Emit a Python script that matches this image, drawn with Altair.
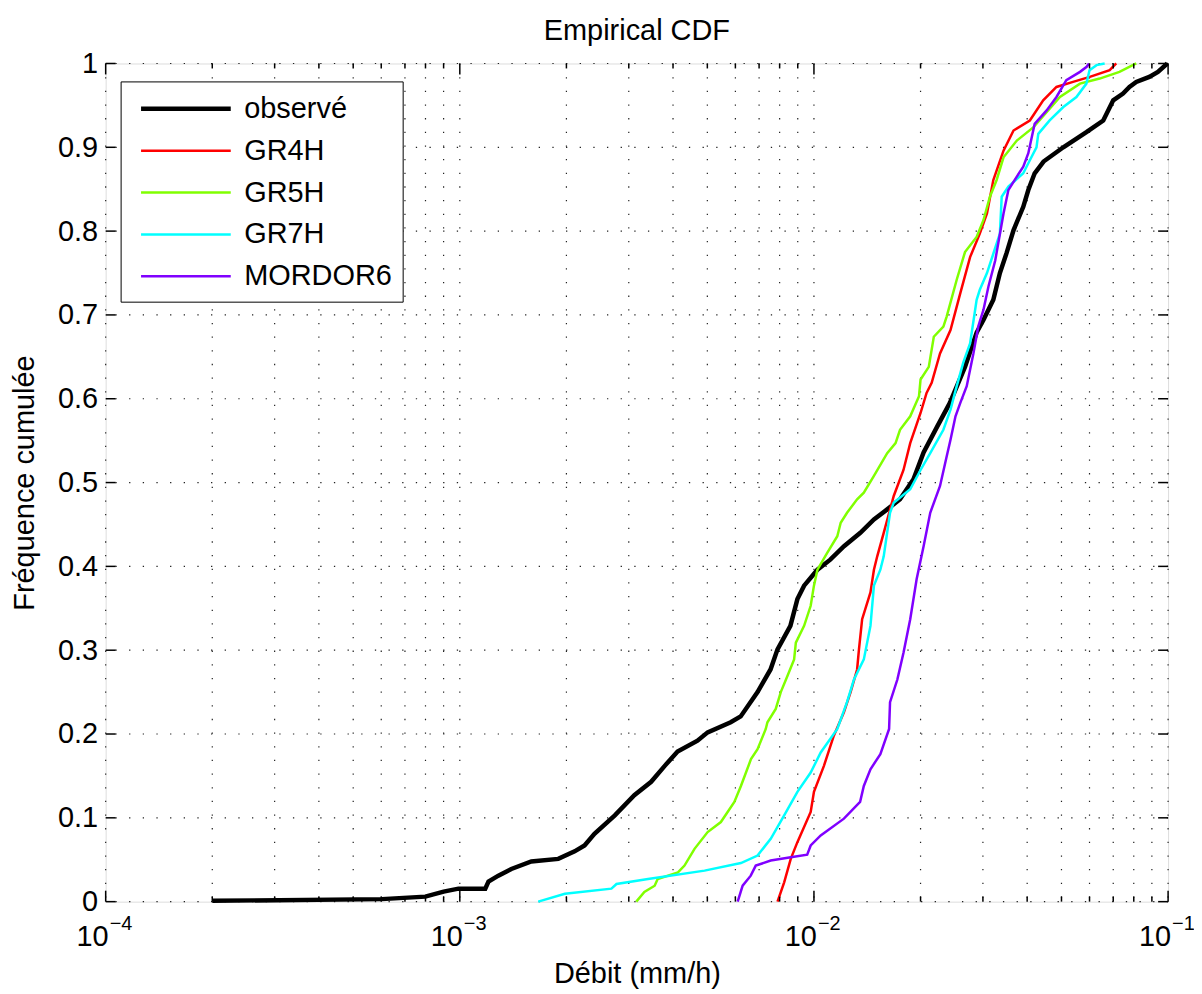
import altair as alt
import pandas as pd

# ---------------- data ----------------
series_names = ["observé", "GR4H", "GR5H", "GR7H", "MORDOR6"]
series_colors = ["#000000", "#ff0000", "#80ff00", "#00ffff", "#8000ff"]
series_widths = [4.5, 2.5, 2.5, 2.5, 2.5]

obs_x = [2.0e-4, 6.02e-4, 7.99e-4, 9.0e-4, 9.91e-4, 1.18e-3, 1.205e-3, 1.285e-3, 1.398e-3,
         1.592e-3, 1.897e-3, 2.11e-3, 2.25e-3, 2.40e-3, 2.74e-3, 3.11e-3, 3.47e-3, 3.79e-3,
         4.12e-3, 4.69e-3, 5.01e-3, 5.82e-3, 6.21e-3, 6.93e-3, 7.54e-3, 7.89e-3, 8.58e-3,
         8.98e-3, 9.38e-3, 1.023e-2, 1.112e-2, 1.216e-2, 1.352e-2, 1.477e-2, 1.61e-2, 1.75e-2,
         1.91e-2, 2.04e-2, 2.23e-2, 2.42e-2, 2.67e-2, 2.88e-2, 3.01e-2, 3.21e-2, 3.35e-2,
         3.50e-2, 3.66e-2, 3.90e-2, 4.03e-2, 4.20e-2, 4.45e-2, 5.06e-2, 5.88e-2, 6.56e-2,
         7.0e-2, 7.46e-2, 7.78e-2, 8.13e-2, 8.85e-2, 9.36e-2, 9.95e-2]
obs_y = [0.001, 0.003, 0.006, 0.012, 0.0155, 0.0155, 0.024, 0.031, 0.039,
         0.048, 0.051, 0.060, 0.067, 0.081, 0.103, 0.127, 0.143, 0.162,
         0.179, 0.192, 0.202, 0.214, 0.221, 0.250, 0.277, 0.301, 0.329,
         0.361, 0.377, 0.396, 0.408, 0.424, 0.440, 0.456, 0.468, 0.480,
         0.504, 0.536, 0.567, 0.595, 0.638, 0.679, 0.694, 0.718, 0.750,
         0.774, 0.801, 0.829, 0.849, 0.869, 0.883, 0.900, 0.918, 0.932,
         0.956, 0.964, 0.972, 0.978, 0.984, 0.990, 1.0]

gr4h_x = [7.89e-3, 8.24e-3, 8.6e-3, 8.98e-3, 9.79e-3, 1.0e-2, 1.067e-2, 1.138e-2, 1.215e-2,
          1.269e-2, 1.324e-2, 1.34e-2, 1.368e-2, 1.444e-2, 1.477e-2, 1.509e-2, 1.574e-2,
          1.68e-2, 1.79e-2, 1.87e-2, 2.0e-2, 2.08e-2, 2.15e-2, 2.27e-2, 2.43e-2, 2.59e-2,
          2.76e-2, 2.94e-2, 3.08e-2, 3.21e-2, 3.43e-2, 3.66e-2, 4.07e-2, 4.44e-2, 4.84e-2,
          5.39e-2, 6.01e-2, 6.84e-2, 7.14e-2]
gr4h_y = [0.0, 0.023, 0.051, 0.071, 0.107, 0.131, 0.162, 0.198, 0.226,
          0.250, 0.277, 0.301, 0.337, 0.369, 0.396, 0.412, 0.440,
          0.484, 0.515, 0.547, 0.583, 0.607, 0.619, 0.654, 0.682, 0.726,
          0.769, 0.797, 0.821, 0.861, 0.896, 0.920, 0.932, 0.956, 0.972,
          0.978, 0.984, 0.992, 1.0]

gr5h_x = [3.15e-3, 3.32e-3, 3.55e-3, 3.62e-3, 4.13e-3, 4.31e-3, 4.6e-3, 5.01e-3, 5.46e-3,
          5.96e-3, 6.22e-3, 6.64e-3, 6.93e-3, 7.31e-3, 7.39e-3, 7.8e-3, 8.06e-3, 8.41e-3,
          8.79e-3, 8.89e-3, 9.38e-3, 9.79e-3, 1.0e-2, 1.023e-2, 1.09e-2, 1.164e-2, 1.19e-2,
          1.24e-2, 1.324e-2, 1.383e-2, 1.477e-2, 1.61e-2, 1.70e-2, 1.75e-2, 1.87e-2, 1.98e-2,
          2.0e-2, 2.11e-2, 2.18e-2, 2.32e-2, 2.37e-2, 2.53e-2, 2.67e-2, 2.88e-2, 3.01e-2,
          3.14e-2, 3.28e-2, 3.43e-2, 3.74e-2, 4.17e-2, 4.95e-2, 5.64e-2, 6.41e-2, 7.29e-2,
          8.13e-2]
gr5h_y = [0.0, 0.0115, 0.019, 0.027, 0.035, 0.043, 0.063, 0.083, 0.095,
          0.119, 0.138, 0.170, 0.182, 0.206, 0.214, 0.230, 0.250, 0.269,
          0.289, 0.309, 0.329, 0.353, 0.377, 0.396, 0.416, 0.436, 0.452,
          0.464, 0.480, 0.488, 0.508, 0.535, 0.547, 0.563, 0.579, 0.603,
          0.623, 0.638, 0.674, 0.686, 0.698, 0.742, 0.775, 0.793, 0.813,
          0.841, 0.861, 0.888, 0.908, 0.924, 0.960, 0.976, 0.982, 0.990,
          1.0]

gr7h_x = [1.665e-3, 1.98e-3, 2.68e-3, 2.77e-3, 3.40e-3, 4.91e-3, 6.22e-3, 6.93e-3, 7.55e-3,
          8.24e-3, 8.98e-3, 9.79e-3, 1.045e-2, 1.164e-2, 1.24e-2, 1.297e-2, 1.383e-2,
          1.444e-2, 1.477e-2, 1.54e-2, 1.574e-2, 1.64e-2, 1.68e-2, 1.87e-2, 2.0e-2, 2.13e-2,
          2.32e-2, 2.43e-2, 2.53e-2, 2.64e-2, 2.76e-2, 2.88e-2, 2.94e-2, 3.08e-2, 3.21e-2,
          3.35e-2, 3.39e-2, 3.54e-2, 3.90e-2, 4.03e-2, 4.25e-2, 4.30e-2, 4.63e-2, 5.06e-2,
          5.51e-2, 5.88e-2, 6.0e-2, 6.28e-2, 6.62e-2]
gr7h_y = [0.0, 0.0095, 0.0155, 0.021, 0.027, 0.037, 0.046, 0.055, 0.075,
          0.103, 0.131, 0.154, 0.178, 0.206, 0.238, 0.265, 0.289,
          0.329, 0.377, 0.396, 0.412, 0.464, 0.476, 0.492, 0.515, 0.535,
          0.563, 0.587, 0.615, 0.643, 0.666, 0.718, 0.730, 0.750, 0.773,
          0.797, 0.841, 0.853, 0.869, 0.881, 0.900, 0.916, 0.932, 0.948,
          0.960, 0.976, 0.992, 0.998, 1.0]

mordor_x = [6.09e-3, 6.29e-3, 6.63e-3, 6.85e-3, 7.55e-3, 8.6e-3, 9.57e-3, 9.79e-3, 1.045e-2,
            1.215e-2, 1.35e-2, 1.383e-2, 1.444e-2, 1.54e-2, 1.63e-2, 1.64e-2, 1.72e-2,
            1.79e-2, 1.87e-2, 1.95e-2, 2.04e-2, 2.13e-2, 2.27e-2, 2.37e-2, 2.43e-2, 2.51e-2,
            2.59e-2, 2.70e-2, 2.82e-2, 2.91e-2, 3.01e-2, 3.11e-2, 3.25e-2, 3.43e-2, 3.54e-2,
            3.74e-2, 3.90e-2, 4.03e-2, 4.2e-2, 4.54e-2, 4.84e-2, 5.16e-2, 5.64e-2, 5.89e-2,
            5.98e-2]
mordor_y = [0.0, 0.019, 0.031, 0.043, 0.049, 0.053, 0.056, 0.067, 0.079,
            0.099, 0.119, 0.138, 0.158, 0.176, 0.206, 0.238, 0.265,
            0.297, 0.337, 0.385, 0.424, 0.464, 0.496, 0.531, 0.551, 0.579,
            0.595, 0.615, 0.654, 0.686, 0.706, 0.734, 0.765, 0.821, 0.849,
            0.865, 0.877, 0.893, 0.928, 0.944, 0.960, 0.980, 0.990, 0.996,
            1.0]

# axis tick values
x_major = [1e-4, 1e-3, 1e-2, 1e-1]
x_major_exp = ["\u22124", "\u22123", "\u22122", "\u22121"]
x_minor = [m * d for d in [1e-4, 1e-3, 1e-2] for m in range(2, 10)]
y_ticks = [0, 0.1, 0.2, 0.3, 0.4, 0.5, 0.6, 0.7, 0.8, 0.9, 1.0]

# ---------------- tables ----------------
rows = []
for name, xs, ys in zip(series_names,
                        [obs_x, gr4h_x, gr5h_x, gr7h_x, mordor_x],
                        [obs_y, gr4h_y, gr5h_y, gr7h_y, mordor_y]):
    for i, (xv, yv) in enumerate(zip(xs, ys)):
        rows.append({"series": name, "x": xv, "y": yv, "idx": i})
df = pd.DataFrame(rows)

major_df = pd.DataFrame({"x": x_major, "exp": x_major_exp, "base": ["10"] * 4})
minor_df = pd.DataFrame({"x": x_minor})
grid_x_df = pd.DataFrame({"x": x_major + x_minor})
y_df = pd.DataFrame({"y": y_ticks})

W, H = 1066, 841
FONT = "Liberation Sans"
FS = 29

xscale = alt.Scale(type="log", domain=[1e-4, 1e-1], nice=False)
yscale = alt.Scale(domain=[0, 1], nice=False)

# grid (dotted)
grid_style = dict(color="#222222", strokeWidth=1.2, strokeDash=[1.3, 12.4], opacity=1)
grid_v = alt.Chart(grid_x_df).mark_rule(**grid_style).encode(x=alt.X("x:Q", scale=xscale))
grid_h = alt.Chart(y_df).mark_rule(**grid_style).encode(y=alt.Y("y:Q", scale=yscale))

# inward ticks
tick_style = dict(color="#000000", strokeWidth=1.5)
tx_major_b = alt.Chart(major_df).mark_rule(**tick_style).encode(
    x=alt.X("x:Q", scale=xscale), y=alt.value(H), y2=alt.value(H - 11))
tx_major_t = alt.Chart(major_df).mark_rule(**tick_style).encode(
    x=alt.X("x:Q", scale=xscale), y=alt.value(0), y2=alt.value(11))
tx_minor_b = alt.Chart(minor_df).mark_rule(**tick_style).encode(
    x=alt.X("x:Q", scale=xscale), y=alt.value(H), y2=alt.value(H - 5))
tx_minor_t = alt.Chart(minor_df).mark_rule(**tick_style).encode(
    x=alt.X("x:Q", scale=xscale), y=alt.value(0), y2=alt.value(5))
ty_l = alt.Chart(y_df).mark_rule(**tick_style).encode(
    y=alt.Y("y:Q", scale=yscale), x=alt.value(0), x2=alt.value(10))
ty_r = alt.Chart(y_df).mark_rule(**tick_style).encode(
    y=alt.Y("y:Q", scale=yscale), x=alt.value(W), x2=alt.value(W - 10))

# x tick labels: 10 with superscript exponent
lab_base = alt.Chart(major_df).mark_text(
    font=FONT, fontSize=FS, align="right", baseline="alphabetic", dx=3, color="#000000"
).encode(x=alt.X("x:Q", scale=xscale), y=alt.value(H + 45), text="base:N")
lab_exp = alt.Chart(major_df).mark_text(
    font=FONT, fontSize=20, align="left", baseline="alphabetic", dx=4, color="#000000"
).encode(x=alt.X("x:Q", scale=xscale), y=alt.value(H + 28), text="exp:N")

legend = alt.Legend(
    title=None, orient="none", legendX=15, legendY=18,
    fillColor="#ffffff", strokeColor="#000000", padding=10,
    symbolType="M-3,0H3", symbolSize=900, symbolOffset=38,
    labelFont=FONT, labelFontSize=FS, labelOffset=41, rowPadding=10,
    labelLimit=400, labelColor="#000000",
)

lines = alt.Chart(df).mark_line(strokeCap="butt").encode(
    x=alt.X("x:Q", scale=xscale,
            axis=alt.Axis(labels=False, ticks=False, domain=False, grid=False,
                          title="Débit (mm/h)", titleFont=FONT, titleFontSize=FS,
                          titleFontWeight="normal", titleColor="#000000",
                          titleX=W / 2, titleY=81, titleAlign="center",
                          titleBaseline="alphabetic")),
    y=alt.Y("y:Q", scale=yscale,
            axis=alt.Axis(values=y_ticks, format=".1~f", ticks=False, domain=False,
                          grid=False, labelFont=FONT, labelFontSize=FS, labelPadding=8,
                          labelColor="#000000",
                          title="Fréquence cumulée", titleFont=FONT, titleFontSize=FS,
                          titleFontWeight="normal", titleColor="#000000",
                          titleX=-72, titleY=H / 2, titleAngle=270, titleAlign="center",
                          titleBaseline="alphabetic")),
    color=alt.Color("series:N", scale=alt.Scale(domain=series_names, range=series_colors),
                    legend=legend),
    strokeWidth=alt.StrokeWidth("series:N",
                                scale=alt.Scale(type="ordinal", domain=series_names,
                                                range=series_widths),
                                legend=legend),
    order="idx:Q",
)

chart = alt.layer(
    grid_v, grid_h, lines,
    tx_major_b, tx_major_t, tx_minor_b, tx_minor_t, ty_l, ty_r,
    lab_base, lab_exp,
).properties(
    width=W, height=H,
    title=alt.Title("Empirical CDF", font=FONT, fontSize=FS, fontWeight="normal",
                    color="#000000", anchor="middle", offset=4),
    autosize=alt.AutoSizeParams(type="none"),
    padding={"left": 98, "top": 54, "right": 26, "bottom": 90},
).configure_view(
    stroke="#000000", strokeWidth=2
).configure(background="#ffffff")

chart.save("out.html", embed_options={"renderer": "svg", "actions": False})
